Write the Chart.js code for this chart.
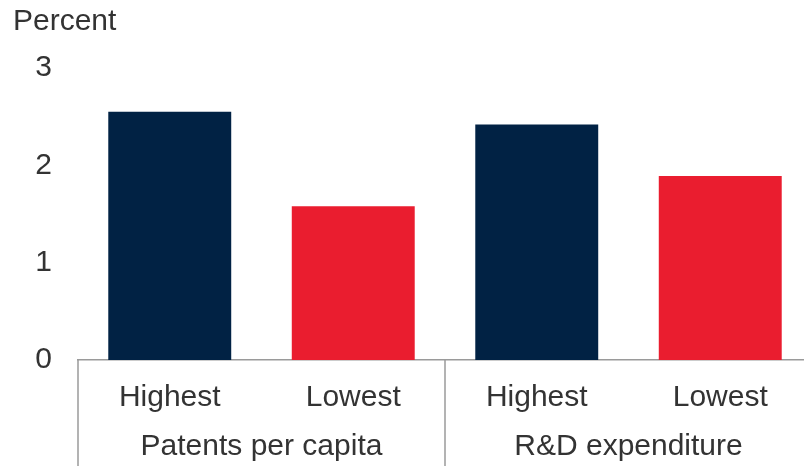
<!DOCTYPE html>
<html>
<head>
<meta charset="utf-8">
<script src="https://cdn.jsdelivr.net/npm/chart.js@4"></script>
<style>
  html, body { margin: 0; padding: 0; background: #fff; overflow: hidden; }
  #wrap { width: 812px; height: 466px; position: relative; }
</style>
</head>
<body>
<div id="wrap"><canvas id="chart"></canvas></div>
<script>
const categories = ["Highest", "Lowest", "Highest", "Lowest"];
const groups = ["Patents per capita", "R&D expenditure"];
const values = [2.55, 1.58, 2.42, 1.89];
const yTicks = [0, 1, 2, 3];

const Colors = {
  navy: "#012244",
  red: "#ea1d2f",
  text: "#333333",
  axis: "#9a9a9a",
};
const FONT = "'Liberation Sans', Arial, sans-serif";

const groupPlugin = {
  id: "groups",
  afterDraw(chart) {
    const ctx = chart.ctx;
    const x = chart.scales.x;
    const area = chart.chartArea;
    ctx.save();
    // separators
    ctx.strokeStyle = Colors.axis;
    ctx.lineWidth = 1.5;
    const seps = [area.left, (x.getPixelForValue(1) + x.getPixelForValue(2)) / 2];
    for (const sx of seps) {
      ctx.beginPath();
      ctx.moveTo(sx, area.bottom);
      ctx.lineTo(sx, chart.height);
      ctx.stroke();
    }
    // group labels
    ctx.fillStyle = Colors.text;
    ctx.font = "30px " + FONT;
    ctx.textAlign = "center";
    ctx.textBaseline = "middle";
    groups.forEach((g, i) => {
      const cx = (x.getPixelForValue(i * 2) + x.getPixelForValue(i * 2 + 1)) / 2;
      ctx.fillText(g, cx, 447);
    });
    // unit label
    ctx.textAlign = "left";
    ctx.fillText("Percent", 13, 22);
    ctx.restore();
  },
};

new Chart(document.getElementById("chart"), {
  type: "bar",
  data: {
    labels: categories,
    datasets: [{
      data: values,
      backgroundColor: [Colors.navy, Colors.red, Colors.navy, Colors.red],
      borderWidth: 0,
      barPercentage: 0.67,
      categoryPercentage: 1,
    }],
  },
  options: {
    responsive: true,
    maintainAspectRatio: false,
    animation: false,
    layout: { padding: { top: 68, right: 0, left: 0, bottom: 0 } },
    plugins: { legend: { display: false }, tooltip: { enabled: false } },
    scales: {
      x: {
        grid: { display: false, drawTicks: false },
        border: { display: true, color: Colors.axis, width: 1.5 },
        ticks: { color: Colors.text, font: { size: 30, family: FONT }, padding: 20, maxRotation: 0 },
        afterFit: s => { s.height = 106; },
      },
      y: {
        min: 0,
        max: 3,
        afterBuildTicks: s => { s.ticks = yTicks.map(v => ({ value: v })); },
        grid: { display: false, drawTicks: false },
        border: { display: false },
        ticks: { color: Colors.text, font: { size: 30, family: FONT }, padding: 26 },
        afterFit: s => { s.width = 78; },
      },
    },
  },
  plugins: [groupPlugin],
});
</script>
</body>
</html>
